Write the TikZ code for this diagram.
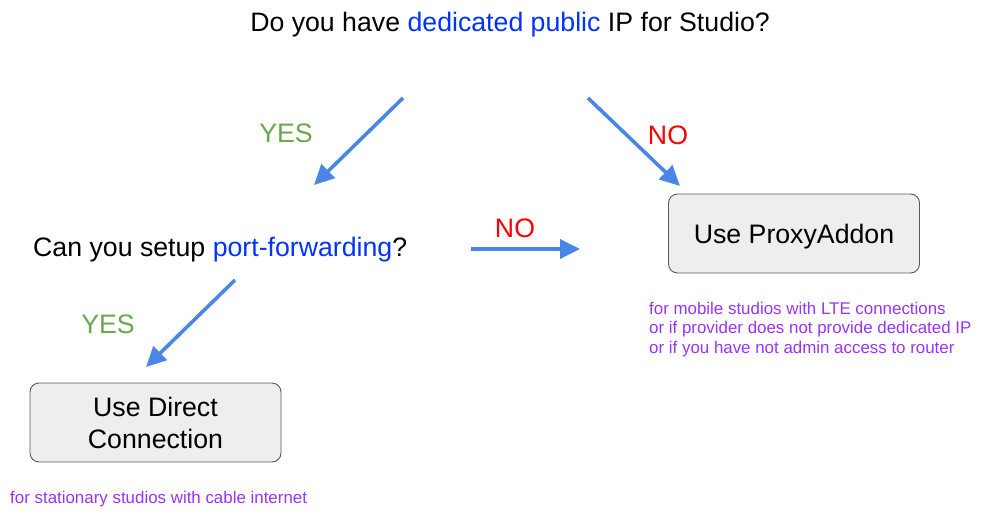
\documentclass[tikz,border=0pt]{standalone}
\usepackage{fontspec}
\setmainfont{Liberation Sans}
\usetikzlibrary{arrows.meta}
\definecolor{arrowblue}{HTML}{4A86E8}
\definecolor{txtblue}{HTML}{0033FF}
\definecolor{yesgreen}{HTML}{6AA84F}
\definecolor{nored}{HTML}{FF0000}
\definecolor{notepurple}{HTML}{9933FF}
\definecolor{boxfill}{HTML}{EEEEEE}
\definecolor{boxdraw}{HTML}{595959}
\begin{document}
\begin{tikzpicture}[x=1pt,y=-1pt,
  big/.style={font=\fontsize{26.7}{32}\selectfont, inner sep=0pt, anchor=base},
  note/.style={font=\fontsize{16.9}{19.5}\selectfont, text=notepurple, inner sep=0pt, anchor=base west, align=left},
  choice/.style={draw=boxdraw, line width=0.9pt, fill=boxfill, rounded corners=9pt,
    font=\fontsize{26.7}{32}\selectfont, align=center, inner sep=0pt},
  flow/.style={draw=arrowblue, line width=3.6pt, -{Triangle[length=20pt,width=19pt]}},
  yeslbl/.style={big, text=yesgreen},
  nolbl/.style={big, text=nored}]
\useasboundingbox (0,0) rectangle (988,527);
\fill[white] (0,0) rectangle (988,527);

\node[big] (q1) at (510,31.5) {Do you have \textcolor{txtblue}{dedicated public} IP for Studio?};
\node[big, anchor=base west] (q2) at (33,256) {Can you setup \textcolor{txtblue}{port-forwarding}?};

\node[choice, minimum width=251pt, minimum height=79pt, text depth=0pt] (proxy) at (794,233.5) {Use ProxyAddon};
\node[choice, minimum width=251pt, minimum height=79pt] (direct) at (155.5,422.5) {Use Direct\\Connection};

\node[note] (pnote) at (649,353) {for mobile studios with LTE connections\\or if provider does not provide dedicated IP\\or if you have not admin access to router};
\node[note] (dnote) at (10,503) {for stationary studios with cable internet};

\coordinate (a1s) at (403,98);  \coordinate (a1e) at (314,185);
\coordinate (a2s) at (588,98);  \coordinate (a2e) at (680,186);
\coordinate (a3s) at (471,249); \coordinate (a3e) at (580,249);
\coordinate (a4s) at (235,280); \coordinate (a4e) at (146,367);

\draw[flow] (a1s) -- (a1e);
\draw[flow] (a2s) -- (a2e);
\draw[flow] (a3s) -- (a3e);
\draw[flow] (a4s) -- (a4e);

\node[yeslbl] (y1) at (286,142) {YES};
\node[nolbl] (n1) at (668,144) {NO};
\node[nolbl] (n2) at (515,237) {NO};
\node[yeslbl] (y2) at (108,333) {YES};
\end{tikzpicture}
\end{document}
